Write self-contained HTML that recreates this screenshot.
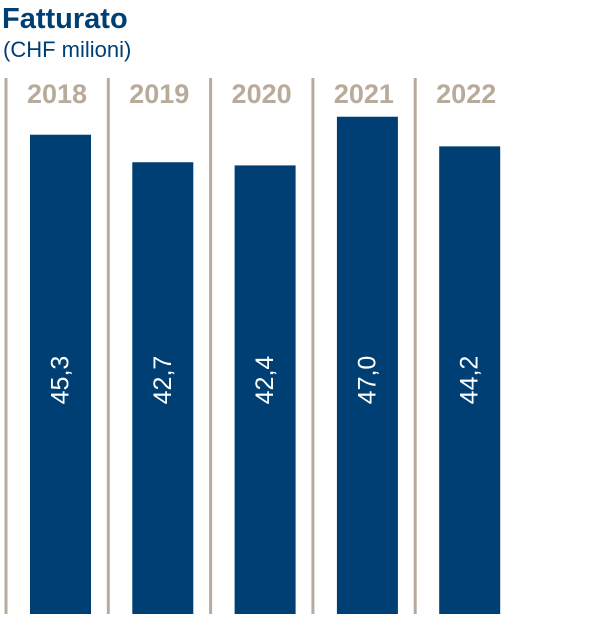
<!DOCTYPE html>
<html><head><meta charset="utf-8"><style>
html,body{margin:0;padding:0;background:#fff;width:600px;height:621px;overflow:hidden}
svg{display:block}
</style></head><body>
<svg id="chart" width="600" height="621">
<text x="2" y="28" font-family="Liberation Sans, sans-serif" font-weight="bold" font-size="29" fill="#003f74">Fatturato</text>
<text x="3" y="57" font-family="Liberation Sans, sans-serif" font-size="22" fill="#003f74">(CHF milioni)</text>
<g id="marks"></g>
</svg>
<script>
const categories = ["2018","2019","2020","2021","2022"];
const values = [45.3,42.7,42.4,47.0,44.2];
const valueLabels = ["45,3","42,7","42,4","47,0","44,2"];
const NS="http://www.w3.org/2000/svg";
const g=document.getElementById('marks');
const baseY=614, pxPerUnit=10.58, step=102.3, x0=6, barOff=24, barW=61;
function xPos(i){return x0+i*step;}
function yPos(v){return baseY-v*pxPerUnit;}
categories.forEach((c,i)=>{
  const lx=xPos(i);
  const line=document.createElementNS(NS,'rect');
  line.setAttribute('x',lx-1.5);line.setAttribute('y',78);line.setAttribute('width',3);line.setAttribute('height',baseY-78);line.setAttribute('fill','#b9ab9b');
  
  
  g.appendChild(line);
  const t=document.createElementNS(NS,'text');
  t.setAttribute('x',lx+51);t.setAttribute('y',103);t.setAttribute('text-anchor','middle');
  t.setAttribute('font-family','Liberation Sans, sans-serif');t.setAttribute('font-weight','bold');t.setAttribute('font-size','27');t.setAttribute('fill','#b9ab9b');
  t.textContent=c;
  
  
  g.appendChild(t);
  const bx=lx+barOff, by=yPos(values[i]);
  const r=document.createElementNS(NS,'rect');
  r.setAttribute('x',bx);r.setAttribute('y',by);r.setAttribute('width',barW);r.setAttribute('height',baseY-by);r.setAttribute('fill','#003f74');
  
  
  g.appendChild(r);
  const v=document.createElementNS(NS,'text');
  const cx=bx+barW/2, cy=380;
  v.setAttribute('x',cx);v.setAttribute('y',cy);v.setAttribute('text-anchor','middle');v.setAttribute('dominant-baseline','central');
  v.setAttribute('transform','rotate(-90 '+cx+' '+cy+')');
  v.setAttribute('font-family','Liberation Sans, sans-serif');v.setAttribute('font-size','25');v.setAttribute('fill','#fff');
  v.textContent=valueLabels[i];
  
  
  g.appendChild(v);
});
</script>
</body></html>
